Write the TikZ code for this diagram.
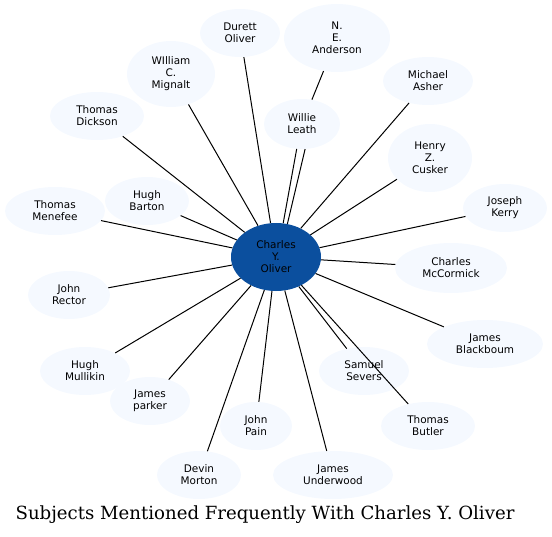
\documentclass[tikz,border=0pt]{standalone}
\usepackage{fontspec}
\setmainfont{DejaVu Sans}
\newfontfamily\titlefont{DejaVu Serif}
\usetikzlibrary{shapes.geometric}
\definecolor{palefill}{HTML}{F5F9FF}
\definecolor{hubblue}{HTML}{0B4F9E}
\begin{document}
\begin{tikzpicture}[x=1bp,y=-1bp,
    person/.style={ellipse, fill=palefill, inner sep=0pt, align=center,
      font=\fontsize{10.5}{12}\selectfont},
    hub/.style={person, fill=hubblue},
    link/.style={line width=1bp}]
	\useasboundingbox (0,0) rectangle (552,537);
	% center
	\node[hub, minimum width=90bp, minimum height=68bp] (oliver) at (276,257) {Charles\\Y.\\Oliver};
	% people round it
	\node[person, minimum width=80bp, minimum height=48bp] (durett) at (240,33) {Durett\\Oliver};
	\node[person, minimum width=106bp, minimum height=68bp] (anderson) at (337,38) {N.\\E.\\Anderson};
	\node[person, minimum width=76bp, minimum height=50bp] (willie) at (302,124) {Willie\\Leath};
	\node[person, minimum width=88bp, minimum height=66bp] (mignalt) at (171,74) {WIlliam\\C.\\Mignalt};
	\node[person, minimum width=94bp, minimum height=48bp] (dickson) at (97,116) {Thomas\\Dickson};
	\node[person, minimum width=84bp, minimum height=48bp] (barton) at (147,201) {Hugh\\Barton};
	\node[person, minimum width=100bp, minimum height=48bp] (menefee) at (55,211) {Thomas\\Menefee};
	\node[person, minimum width=90bp, minimum height=48bp] (asher) at (428,81) {Michael\\Asher};
	\node[person, minimum width=84bp, minimum height=68bp] (cusker) at (430,158) {Henry\\Z.\\Cusker};
	\node[person, minimum width=84bp, minimum height=48bp] (kerry) at (505,208) {Joseph\\Kerry};
	\node[person, minimum width=112bp, minimum height=50bp] (mccormick) at (451,268) {Charles\\McCormick};
	\node[person, minimum width=116bp, minimum height=48bp] (blackboum) at (485,344) {James\\Blackboum};
	\node[person, minimum width=82bp, minimum height=48bp] (rector) at (69,295) {John\\Rector};
	\node[person, minimum width=90bp, minimum height=48bp] (mullikin) at (85,371) {Hugh\\Mullikin};
	\node[person, minimum width=80bp, minimum height=48bp] (parker) at (150,401) {James\\parker};
	\node[person, minimum width=72bp, minimum height=48bp] (pain) at (256,426) {John\\Pain};
	\node[person, minimum width=84bp, minimum height=48bp] (morton) at (199,475) {Devin\\Morton};
	\node[person, minimum width=120bp, minimum height=48bp] (underwood) at (333,475) {James\\Underwood};
	\node[person, minimum width=90bp, minimum height=48bp] (severs) at (364,371) {Samuel\\Severs};
	\node[person, minimum width=94bp, minimum height=48bp] (butler) at (428,426) {Thomas\\Butler};
	% links
	\foreach \who in {durett,mignalt,dickson,barton,menefee,asher,cusker,kerry,mccormick,
	  blackboum,rector,mullikin,parker,pain,morton,underwood,severs,butler}
	  \draw[link] (oliver) -- (\who);
	\draw[link] (oliver.78) -- (willie.258);
	\draw[link] (oliver.71) -- (willie.277);
	\draw[link] (willie) -- (anderson);
	% title
	\node[font=\titlefont\fontsize{18.2}{20}\selectfont] (title) at (265,515) {Subjects Mentioned Frequently With Charles Y. Oliver};
\end{tikzpicture}
\end{document}
